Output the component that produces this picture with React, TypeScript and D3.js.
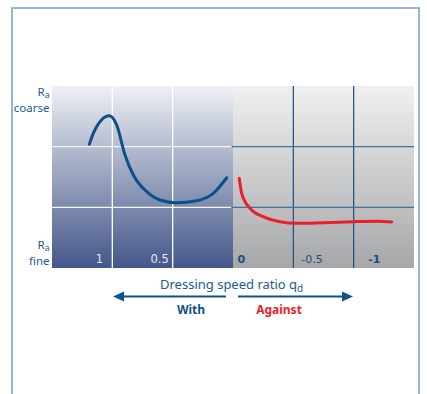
import React from "react";
import * as d3 from "d3";

// ---- data ----
const withQd = [1.19, 1.158, 1.025, 0.964, 0.895, 0.826, 0.715, 0.605, 0.467, 0.301, 0.163, 0.052];
const withRa = [2.04, 2.22, 2.51, 2.357, 1.863, 1.533, 1.258, 1.121, 1.076, 1.109, 1.231, 1.488];
const againstQd = [-0.052, -0.072, -0.141, -0.251, -0.389, -0.527, -0.748, -0.997, -1.191, -1.315];
const againstRa = [1.478, 1.231, 0.984, 0.846, 0.763, 0.737, 0.747, 0.763, 0.77, 0.758];
const gridX = [1.5, 1, 0.5, 0, -0.5, -1, -1.5];
const gridY = [1, 2];
const leftTicks = [1, 0.5];
const leftTickLabels = ["1", "0.5"];
const rightTicks = [0, -0.5, -1];
const rightTickLabels = ["0", "-0.5", "-1"];

export default function App() {
  const W = 427, H = 394;
  const x = d3.scaleLinear().domain([1.5, -1.5]).range([52, 414]);
  const y = d3.scaleLinear().domain([0, 3]).range([268, 86]);
  const line = d3
    .line<[number, number]>()
    .x((d) => x(d[0]))
    .y((d) => y(d[1]))
    .curve(d3.curveMonotoneX);
  const withPts = withQd.map((q, i) => [q, withRa[i]] as [number, number]);
  const againstPts = againstQd.map((q, i) => [q, againstRa[i]] as [number, number]);
  const x0 = x(0);
  const top = y(3), bot = y(0);
  const rightOffsets = [4.5, 8, 14.5];
  const blueText = "#215a91";
  const arrowY = 296.5;

  return (
    <svg width={W} height={H} style={{ position: "absolute", left: 0, top: 0 }}>
      <defs>
        <linearGradient id="gl" x1="0" y1="0" x2="0" y2="1">
          <stop offset="0" stopColor="#eff0f5" />
          <stop offset="0.35" stopColor="#b2bace" />
          <stop offset="1" stopColor="#44578a" />
        </linearGradient>
        <linearGradient id="gr" x1="0" y1="0" x2="0" y2="1">
          <stop offset="0" stopColor="#f0f0f0" />
          <stop offset="1" stopColor="#a6a7a9" />
        </linearGradient>
      </defs>
      <rect x={12} y={8} width={407} height={400} fill="#fff" stroke="#7ea2c7" strokeWidth={1.6} />
      <rect x={x(1.5)} y={top} width={x0 - x(1.5)} height={bot - top} fill="url(#gl)" />
      <rect x={x0} y={top} width={x(-1.5) - x0} height={bot - top} fill="url(#gr)" />
      {/* left grid (white) */}
      {gridX.filter((v) => v < 1.5 && v > 0).map((v) => (
        <line key={"lv" + v} x1={x(v)} x2={x(v)} y1={top} y2={bot} stroke="#ffffff" strokeWidth={1.3} />
      ))}
      {gridY.map((v) => (
        <line key={"lh" + v} x1={x(1.5)} x2={x0 - 2} y1={y(v)} y2={y(v)} stroke="#f2f4f8" strokeWidth={1.4} />
      ))}
      {/* right grid (blue) */}
      {gridX.filter((v) => v < 0 && v > -1.5).map((v) => (
        <line key={"rv" + v} x1={x(v)} x2={x(v)} y1={top} y2={bot} stroke="#1c4d7e" strokeWidth={1.2} />
      ))}
      {gridY.map((v) => (
        <line key={"rh" + v} x1={x0 - 1} x2={x(-1.5)} y1={y(v)} y2={y(v)} stroke="#3b72a2" strokeWidth={1.4} />
      ))}
      {/* curves */}
      <path d={line(withPts) || ""} fill="none" stroke="#0c5089" strokeWidth={3} strokeLinecap="round" />
      <path d={line(againstPts) || ""} fill="none" stroke="#ea1f2b" strokeWidth={3} strokeLinecap="round" />
      {/* tick labels */}
      {leftTicks.map((v, i) => (
        <text key={"lt" + v} x={x(v) - 13} y={263} textAnchor="middle" fontFamily="DejaVu Sans" fontSize={11.5} fill="#e6eaf2">
          {leftTickLabels[i]}
        </text>
      ))}
      {rightTicks.map((v, i) => (
        <text key={"rt" + v} x={x(v) + rightOffsets[i]} y={263} textAnchor="start" fontFamily="DejaVu Sans" fontSize={11} fontWeight={i === 1 ? "normal" : "bold"} fill="#1d4f82">
          {rightTickLabels[i]}
        </text>
      ))}
      {/* y labels */}
      <g fontFamily="Noto Sans" fontSize={11.5} fill={blueText} textAnchor="end">
        <text x={49.5} y={96}>
          R<tspan fontSize={8.5} dy={1.5}>a</tspan>
        </text>
        <text x={49.5} y={112}>coarse</text>
        <text x={49.5} y={249}>
          R<tspan fontSize={8.5} dy={1.5}>a</tspan>
        </text>
        <text x={49.5} y={264.5}>fine</text>
      </g>
      {/* x title */}
      <text x={160} y={289} fontFamily="Noto Sans" fontSize={13} fill={blueText}>
        Dressing speed ratio q<tspan fontSize={10} dy={3}>d</tspan>
      </text>
      {/* arrows */}
      <line x1={122} x2={226} y1={arrowY} y2={arrowY} stroke="#0d5289" strokeWidth={2} />
      <path d={`M113,${arrowY} L124,${arrowY - 5} L124,${arrowY + 5} Z`} fill="#0d5289" />
      <line x1={238} x2={344} y1={arrowY} y2={arrowY} stroke="#0d5289" strokeWidth={2} />
      <path d={`M353,${arrowY} L342,${arrowY - 5} L342,${arrowY + 5} Z`} fill="#0d5289" />
      <text x={191} y={314} textAnchor="middle" fontFamily="Noto Sans" fontWeight="bold" fontSize={12} fill="#0e5088">
        With
      </text>
      <text x={279} y={314} textAnchor="middle" fontFamily="Noto Sans" fontWeight="bold" fontSize={12} fill="#ea1f2b">
        Against
      </text>
    </svg>
  );
}
